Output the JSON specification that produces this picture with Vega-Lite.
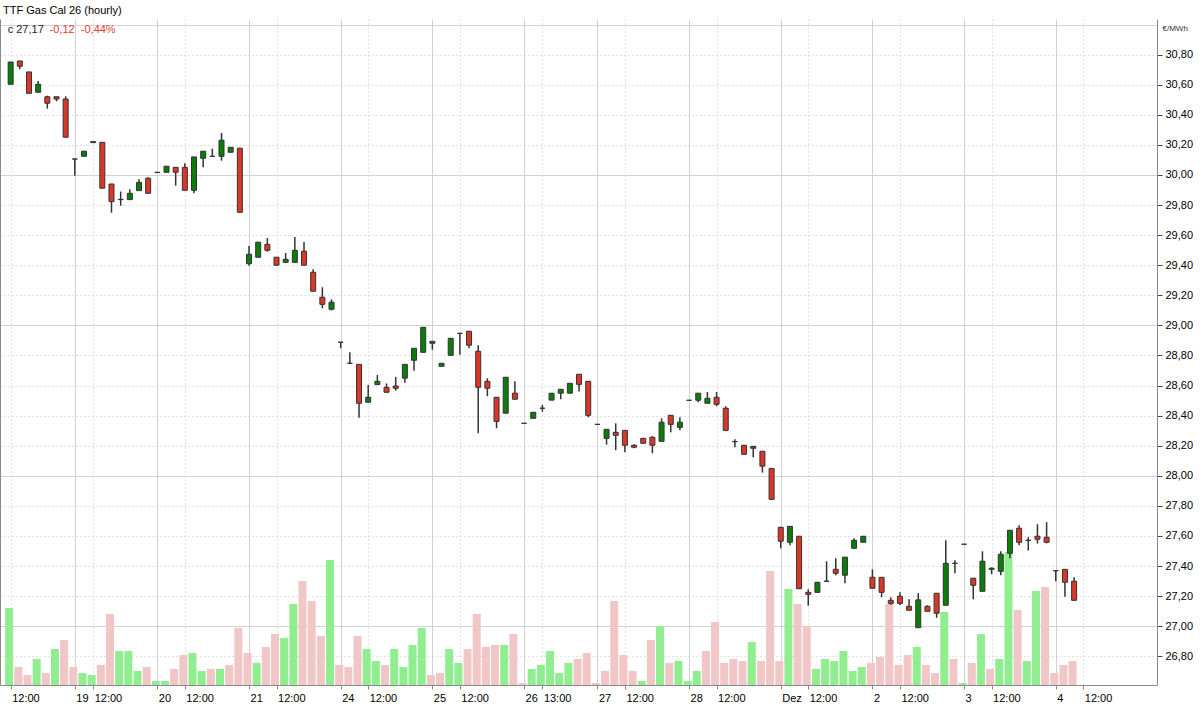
{
  "$schema": "https://vega.github.io/schema/vega-lite/v6.json",
  "width": 1157,
  "height": 666,
  "autosize": "none",
  "padding": {"left": 0, "top": 19, "right": 43, "bottom": 20},
  "background": "white",
  "config": {"view": {"stroke": null}, "font": "Liberation Sans"},
  "title": {"text": "TTF Gas Cal 26 (hourly)", "anchor": "start", "frame": "group", "orient": "top", "offset": 4, "baseline": "bottom", "font": "Liberation Sans", "fontSize": 11, "fontWeight": "normal", "color": "#000000", "dx": 3, "dy": 12},
  "datasets": {
    "ohlc": [
      {"i":0,"t":"2025-11-18 12:00","o":30.603,"h":30.751,"l":30.603,"c":30.751,"v":77},
      {"i":1,"t":"2025-11-18 13:00","o":30.758,"h":30.758,"l":30.703,"c":30.723,"v":18},
      {"i":2,"t":"2025-11-18 14:00","o":30.685,"h":30.685,"l":30.543,"c":30.543,"v":10},
      {"i":3,"t":"2025-11-18 15:00","o":30.55,"h":30.625,"l":30.55,"c":30.603,"v":26},
      {"i":4,"t":"2025-11-18 16:00","o":30.52,"h":30.527,"l":30.441,"c":30.477,"v":12},
      {"i":5,"t":"2025-11-18 17:00","o":30.52,"h":30.52,"l":30.49,"c":30.505,"v":36},
      {"i":6,"t":"2025-11-18 18:00","o":30.505,"h":30.523,"l":30.251,"c":30.251,"v":45},
      {"i":7,"t":"2025-11-19 10:00","o":30.106,"h":30.106,"l":29.995,"c":30.106,"v":18},
      {"i":8,"t":"2025-11-19 11:00","o":30.124,"h":30.158,"l":30.124,"c":30.158,"v":12},
      {"i":9,"t":"2025-11-19 12:00","o":30.215,"h":30.222,"l":30.215,"c":30.222,"v":10},
      {"i":10,"t":"2025-11-19 13:00","o":30.217,"h":30.217,"l":29.912,"c":29.912,"v":20},
      {"i":11,"t":"2025-11-19 14:00","o":29.94,"h":29.94,"l":29.749,"c":29.823,"v":71},
      {"i":12,"t":"2025-11-19 15:00","o":29.836,"h":29.89,"l":29.796,"c":29.838,"v":34},
      {"i":13,"t":"2025-11-19 16:00","o":29.836,"h":29.905,"l":29.836,"c":29.878,"v":34},
      {"i":14,"t":"2025-11-19 17:00","o":29.896,"h":29.971,"l":29.896,"c":29.951,"v":14},
      {"i":15,"t":"2025-11-19 18:00","o":29.978,"h":29.985,"l":29.878,"c":29.878,"v":18},
      {"i":16,"t":"2025-11-20 09:00","o":30.016,"h":30.018,"l":30.016,"c":30.018,"v":4},
      {"i":17,"t":"2025-11-20 10:00","o":30.018,"h":30.058,"l":30.018,"c":30.058,"v":4},
      {"i":18,"t":"2025-11-20 11:00","o":30.051,"h":30.051,"l":29.929,"c":30.018,"v":16},
      {"i":19,"t":"2025-11-20 12:00","o":30.051,"h":30.078,"l":29.898,"c":29.898,"v":30},
      {"i":20,"t":"2025-11-20 13:00","o":29.898,"h":30.12,"l":29.878,"c":30.12,"v":32},
      {"i":21,"t":"2025-11-20 14:00","o":30.111,"h":30.158,"l":30.051,"c":30.158,"v":14},
      {"i":22,"t":"2025-11-20 15:00","o":30.124,"h":30.175,"l":30.124,"c":30.124,"v":16},
      {"i":23,"t":"2025-11-20 16:00","o":30.124,"h":30.279,"l":30.095,"c":30.231,"v":16},
      {"i":24,"t":"2025-11-20 17:00","o":30.151,"h":30.184,"l":30.151,"c":30.184,"v":20},
      {"i":25,"t":"2025-11-20 18:00","o":30.178,"h":30.178,"l":29.752,"c":29.752,"v":57},
      {"i":26,"t":"2025-11-21 09:00","o":29.41,"h":29.528,"l":29.397,"c":29.473,"v":32},
      {"i":27,"t":"2025-11-21 10:00","o":29.453,"h":29.553,"l":29.453,"c":29.553,"v":22},
      {"i":28,"t":"2025-11-21 11:00","o":29.539,"h":29.581,"l":29.49,"c":29.499,"v":38},
      {"i":29,"t":"2025-11-21 12:00","o":29.453,"h":29.453,"l":29.4,"c":29.4,"v":51},
      {"i":30,"t":"2025-11-21 13:00","o":29.419,"h":29.481,"l":29.419,"c":29.439,"v":47},
      {"i":31,"t":"2025-11-21 14:00","o":29.419,"h":29.588,"l":29.419,"c":29.499,"v":81},
      {"i":32,"t":"2025-11-21 15:00","o":29.493,"h":29.555,"l":29.4,"c":29.4,"v":104},
      {"i":33,"t":"2025-11-21 16:00","o":29.353,"h":29.373,"l":29.227,"c":29.227,"v":84},
      {"i":34,"t":"2025-11-21 17:00","o":29.187,"h":29.253,"l":29.114,"c":29.14,"v":49},
      {"i":35,"t":"2025-11-21 18:00","o":29.107,"h":29.173,"l":29.1,"c":29.154,"v":125},
      {"i":36,"t":"2025-11-24 09:00","o":28.888,"h":28.888,"l":28.848,"c":28.888,"v":20},
      {"i":37,"t":"2025-11-24 10:00","o":28.748,"h":28.821,"l":28.748,"c":28.748,"v":18},
      {"i":38,"t":"2025-11-24 11:00","o":28.741,"h":28.741,"l":28.386,"c":28.482,"v":49},
      {"i":39,"t":"2025-11-24 12:00","o":28.489,"h":28.604,"l":28.489,"c":28.522,"v":36},
      {"i":40,"t":"2025-11-24 13:00","o":28.606,"h":28.67,"l":28.606,"c":28.628,"v":24},
      {"i":41,"t":"2025-11-24 14:00","o":28.588,"h":28.614,"l":28.555,"c":28.555,"v":20},
      {"i":42,"t":"2025-11-24 15:00","o":28.597,"h":28.657,"l":28.566,"c":28.582,"v":36},
      {"i":43,"t":"2025-11-24 16:00","o":28.649,"h":28.741,"l":28.619,"c":28.741,"v":18},
      {"i":44,"t":"2025-11-24 17:00","o":28.768,"h":28.848,"l":28.699,"c":28.848,"v":40},
      {"i":45,"t":"2025-11-24 18:00","o":28.821,"h":28.987,"l":28.821,"c":28.987,"v":57},
      {"i":46,"t":"2025-11-25 09:00","o":28.881,"h":28.894,"l":28.838,"c":28.894,"v":10},
      {"i":47,"t":"2025-11-25 10:00","o":28.728,"h":28.748,"l":28.728,"c":28.748,"v":12},
      {"i":48,"t":"2025-11-25 11:00","o":28.801,"h":28.914,"l":28.801,"c":28.914,"v":36},
      {"i":49,"t":"2025-11-25 12:00","o":28.947,"h":28.947,"l":28.805,"c":28.947,"v":22},
      {"i":50,"t":"2025-11-25 13:00","o":28.961,"h":28.961,"l":28.848,"c":28.868,"v":36},
      {"i":51,"t":"2025-11-25 14:00","o":28.828,"h":28.868,"l":28.283,"c":28.588,"v":71},
      {"i":52,"t":"2025-11-25 15:00","o":28.628,"h":28.648,"l":28.529,"c":28.582,"v":38},
      {"i":53,"t":"2025-11-25 16:00","o":28.522,"h":28.522,"l":28.316,"c":28.362,"v":40},
      {"i":54,"t":"2025-11-25 17:00","o":28.416,"h":28.655,"l":28.416,"c":28.655,"v":40},
      {"i":55,"t":"2025-11-25 18:00","o":28.549,"h":28.628,"l":28.509,"c":28.509,"v":51},
      {"i":56,"t":"2025-11-26 11:00","o":28.349,"h":28.349,"l":28.349,"c":28.349,"v":2},
      {"i":57,"t":"2025-11-26 12:00","o":28.382,"h":28.422,"l":28.382,"c":28.422,"v":16},
      {"i":58,"t":"2025-11-26 13:00","o":28.449,"h":28.471,"l":28.426,"c":28.449,"v":20},
      {"i":59,"t":"2025-11-26 14:00","o":28.503,"h":28.549,"l":28.503,"c":28.549,"v":34},
      {"i":60,"t":"2025-11-26 15:00","o":28.549,"h":28.575,"l":28.509,"c":28.575,"v":12},
      {"i":61,"t":"2025-11-26 16:00","o":28.549,"h":28.615,"l":28.549,"c":28.615,"v":22},
      {"i":62,"t":"2025-11-26 17:00","o":28.675,"h":28.675,"l":28.561,"c":28.608,"v":26},
      {"i":63,"t":"2025-11-26 18:00","o":28.628,"h":28.628,"l":28.389,"c":28.402,"v":32},
      {"i":64,"t":"2025-11-27 09:00","o":28.342,"h":28.342,"l":28.342,"c":28.342,"v":2},
      {"i":65,"t":"2025-11-27 10:00","o":28.249,"h":28.309,"l":28.207,"c":28.309,"v":14},
      {"i":66,"t":"2025-11-27 11:00","o":28.289,"h":28.349,"l":28.17,"c":28.269,"v":84},
      {"i":67,"t":"2025-11-27 12:00","o":28.302,"h":28.302,"l":28.156,"c":28.203,"v":30},
      {"i":68,"t":"2025-11-27 13:00","o":28.203,"h":28.209,"l":28.183,"c":28.19,"v":14},
      {"i":69,"t":"2025-11-27 14:00","o":28.249,"h":28.249,"l":28.216,"c":28.216,"v":4},
      {"i":70,"t":"2025-11-27 15:00","o":28.256,"h":28.263,"l":28.15,"c":28.203,"v":45},
      {"i":71,"t":"2025-11-27 16:00","o":28.229,"h":28.382,"l":28.229,"c":28.356,"v":59},
      {"i":72,"t":"2025-11-27 17:00","o":28.402,"h":28.402,"l":28.289,"c":28.342,"v":22},
      {"i":73,"t":"2025-11-27 18:00","o":28.322,"h":28.389,"l":28.302,"c":28.356,"v":24},
      {"i":74,"t":"2025-11-28 09:00","o":28.502,"h":28.502,"l":28.502,"c":28.502,"v":4},
      {"i":75,"t":"2025-11-28 10:00","o":28.502,"h":28.549,"l":28.489,"c":28.549,"v":14},
      {"i":76,"t":"2025-11-28 11:00","o":28.482,"h":28.557,"l":28.482,"c":28.515,"v":34},
      {"i":77,"t":"2025-11-28 12:00","o":28.522,"h":28.557,"l":28.462,"c":28.475,"v":63},
      {"i":78,"t":"2025-11-28 13:00","o":28.449,"h":28.462,"l":28.302,"c":28.302,"v":22},
      {"i":79,"t":"2025-11-28 14:00","o":28.227,"h":28.243,"l":28.19,"c":28.227,"v":26},
      {"i":80,"t":"2025-11-28 15:00","o":28.203,"h":28.203,"l":28.143,"c":28.143,"v":24},
      {"i":81,"t":"2025-11-28 16:00","o":28.183,"h":28.196,"l":28.123,"c":28.196,"v":43},
      {"i":82,"t":"2025-11-28 17:00","o":28.163,"h":28.163,"l":28.021,"c":28.064,"v":24},
      {"i":83,"t":"2025-11-28 18:00","o":28.049,"h":28.049,"l":27.843,"c":27.843,"v":114},
      {"i":84,"t":"2025-12-01 09:00","o":27.658,"h":27.658,"l":27.518,"c":27.565,"v":24},
      {"i":85,"t":"2025-12-01 10:00","o":27.558,"h":27.664,"l":27.538,"c":27.664,"v":96},
      {"i":86,"t":"2025-12-01 11:00","o":27.598,"h":27.598,"l":27.249,"c":27.249,"v":81},
      {"i":87,"t":"2025-12-01 12:00","o":27.225,"h":27.245,"l":27.136,"c":27.212,"v":59},
      {"i":88,"t":"2025-12-01 13:00","o":27.225,"h":27.292,"l":27.225,"c":27.292,"v":16},
      {"i":89,"t":"2025-12-01 14:00","o":27.299,"h":27.432,"l":27.299,"c":27.299,"v":26},
      {"i":90,"t":"2025-12-01 15:00","o":27.378,"h":27.452,"l":27.339,"c":27.352,"v":24},
      {"i":91,"t":"2025-12-01 16:00","o":27.339,"h":27.459,"l":27.285,"c":27.459,"v":34},
      {"i":92,"t":"2025-12-01 17:00","o":27.518,"h":27.584,"l":27.518,"c":27.571,"v":14},
      {"i":93,"t":"2025-12-01 18:00","o":27.558,"h":27.598,"l":27.558,"c":27.598,"v":18},
      {"i":94,"t":"2025-12-02 09:00","o":27.325,"h":27.378,"l":27.252,"c":27.252,"v":22},
      {"i":95,"t":"2025-12-02 10:00","o":27.325,"h":27.325,"l":27.192,"c":27.225,"v":28},
      {"i":96,"t":"2025-12-02 11:00","o":27.172,"h":27.192,"l":27.143,"c":27.152,"v":81},
      {"i":97,"t":"2025-12-02 12:00","o":27.199,"h":27.225,"l":27.139,"c":27.152,"v":20},
      {"i":98,"t":"2025-12-02 13:00","o":27.132,"h":27.179,"l":27.106,"c":27.106,"v":30},
      {"i":99,"t":"2025-12-02 14:00","o":26.99,"h":27.22,"l":26.99,"c":27.175,"v":38},
      {"i":100,"t":"2025-12-02 15:00","o":27.132,"h":27.139,"l":27.099,"c":27.099,"v":20},
      {"i":101,"t":"2025-12-02 16:00","o":27.219,"h":27.219,"l":27.056,"c":27.086,"v":12},
      {"i":102,"t":"2025-12-02 17:00","o":27.139,"h":27.571,"l":27.139,"c":27.418,"v":73},
      {"i":103,"t":"2025-12-02 18:00","o":27.418,"h":27.438,"l":27.352,"c":27.418,"v":26},
      {"i":104,"t":"2025-12-03 09:00","o":27.545,"h":27.545,"l":27.545,"c":27.545,"v":2},
      {"i":105,"t":"2025-12-03 10:00","o":27.319,"h":27.319,"l":27.179,"c":27.272,"v":22},
      {"i":106,"t":"2025-12-03 11:00","o":27.232,"h":27.498,"l":27.232,"c":27.432,"v":51},
      {"i":107,"t":"2025-12-03 12:00","o":27.378,"h":27.392,"l":27.345,"c":27.385,"v":16},
      {"i":108,"t":"2025-12-03 13:00","o":27.365,"h":27.498,"l":27.339,"c":27.478,"v":26},
      {"i":109,"t":"2025-12-03 14:00","o":27.485,"h":27.638,"l":27.452,"c":27.638,"v":133},
      {"i":110,"t":"2025-12-03 15:00","o":27.651,"h":27.671,"l":27.538,"c":27.558,"v":75},
      {"i":111,"t":"2025-12-03 16:00","o":27.57,"h":27.592,"l":27.503,"c":27.572,"v":24},
      {"i":112,"t":"2025-12-03 17:00","o":27.598,"h":27.678,"l":27.549,"c":27.578,"v":94},
      {"i":113,"t":"2025-12-03 18:00","o":27.591,"h":27.691,"l":27.551,"c":27.558,"v":98},
      {"i":114,"t":"2025-12-04 09:00","o":27.369,"h":27.369,"l":27.298,"c":27.369,"v":12},
      {"i":115,"t":"2025-12-04 10:00","o":27.378,"h":27.378,"l":27.196,"c":27.292,"v":20},
      {"i":116,"t":"2025-12-04 11:00","o":27.299,"h":27.325,"l":27.172,"c":27.172,"v":24}
    ]
  },
  "data": {"name": "ohlc"},
  "layer": [
    {
      "transform": [{"window": [{"op": "lag", "field": "c", "as": "pc"}], "sort": [{"field": "i", "order": "ascending"}]}],
      "mark": {"type": "bar", "size": 8, "xOffset": -1.5, "clip": true},
      "encoding": {
        "x": {
          "field": "i",
          "type": "quantitative",
          "scale": {"domain": [-0.616, 124.495], "nice": false, "zero": false},
          "axis": {
            "values": [0, 7, 9, 16, 19, 26, 29, 36, 39, 46, 49, 56, 58, 64, 67, 74, 77, 84, 87, 94, 97, 104, 107, 114, 117],
            "tickCount": 60,
            "labelExpr": "indexof([7,16,26,36,46,56,64,74,84,94,104,114], datum.value) >= 0 ? ['19','20','21','24','25','26','27','28','Dez','2','3','4'][indexof([7,16,26,36,46,56,64,74,84,94,104,114], datum.value)] : (datum.value == 58 ? '13:00' : '12:00')",
            "title": null,
            "grid": true,
            "gridColor": {"condition": {"test": "indexof([7,16,26,36,46,56,64,74,84,94,104,114], datum.value) >= 0", "value": "#d2d2d2"}, "value": "#c2c2c2"},
            "gridDash": {"condition": {"test": "indexof([7,16,26,36,46,56,64,74,84,94,104,114], datum.value) >= 0", "value": []}, "value": [1, 3]},
            "gridWidth": 1,
            "domainColor": "#8a8a8a",
            "domainWidth": 1,
            "tickColor": "#8a8a8a",
            "tickSize": 4,
            "labelFont": "Liberation Sans",
            "labelFontSize": 11,
            "labelColor": "#000000",
            "labelAlign": "left",
            "labelBaseline": "top",
            "labelPadding": 3,
            "labelOffset": 1,
            "labelOverlap": false,
            "labelFlush": false,
            "labelBound": false
          }
        },
        "y": {"field": "v", "type": "quantitative", "scale": {"domain": [0, 666], "nice": false, "zero": true},
          "axis": {"orient": "left", "labels": false, "ticks": false, "grid": false, "title": null, "domain": true, "domainColor": "#8a8a8a", "domainWidth": 1}},
        "color": {"condition": {"test": "datum.pc == null || datum.c > datum.pc", "value": "#90ee90"}, "value": "#f0c6c6"}
      }
    },
    {
      "layer": [
        {
          "mark": {"type": "rule", "color": "#333333", "strokeWidth": 1.5, "clip": true},
          "encoding": {
            "x": {"field": "i", "type": "quantitative", "scale": {"domain": [-0.616, 124.495], "nice": false, "zero": false}},
            "y": {
              "field": "l",
              "type": "quantitative",
              "scale": {"domain": [26.609, 31.037], "nice": false, "zero": false},
              "axis": {
                "orient": "right",
                "values": [26.8, 27, 27.2, 27.4, 27.6, 27.8, 28, 28.2, 28.4, 28.6, 28.8, 29, 29.2, 29.4, 29.6, 29.8, 30, 30.2, 30.4, 30.6, 30.8, 31],
                "tickCount": 60,
                "labelExpr": "datum.value > 30.9 ? '' : replace(format(datum.value, '.2f'), '.', ',')",
                "grid": true,
                "gridColor": {"condition": {"test": "abs(datum.value - round(datum.value)) < 0.01", "value": "#d2d2d2"}, "value": "#c2c2c2"},
                "gridDash": {"condition": {"test": "abs(datum.value - round(datum.value)) < 0.01", "value": []}, "value": [1, 3]},
                "gridWidth": 1,
                "tickOpacity": {"condition": {"test": "datum.value > 30.9", "value": 0}, "value": 1},
                "tickColor": "#444444",
                "tickSize": 5,
                "domainColor": "#8a8a8a",
                "labelFont": "Liberation Sans",
                "labelFontSize": 11,
                "labelColor": "#000000",
                "labelPadding": 3,
                "labelOverlap": false,
                "labelBound": false,
                "labelFlush": false,
                "title": "€/MWh",
                "titleAngle": 0,
                "titleX": 5,
                "titleY": 9,
                "titleAlign": "left",
                "titleBaseline": "middle",
                "titleFont": "Liberation Sans",
                "titleFontSize": 8,
                "titleFontWeight": "normal",
                "titleColor": "#333333"
              }
            },
            "y2": {"field": "h"}
          }
        },
        {
          "mark": {"type": "bar", "size": 5, "stroke": "#333333", "strokeWidth": 1, "clip": true},
          "encoding": {
            "x": {"field": "i", "type": "quantitative", "scale": {"domain": [-0.616, 124.495], "nice": false, "zero": false}},
            "y": {
              "field": "o",
              "type": "quantitative",
              "scale": {"domain": [26.609, 31.037], "nice": false, "zero": false},
              "axis": {
                "orient": "right",
                "values": [26.8, 27, 27.2, 27.4, 27.6, 27.8, 28, 28.2, 28.4, 28.6, 28.8, 29, 29.2, 29.4, 29.6, 29.8, 30, 30.2, 30.4, 30.6, 30.8, 31],
                "tickCount": 60,
                "labelExpr": "datum.value > 30.9 ? '' : replace(format(datum.value, '.2f'), '.', ',')",
                "grid": true,
                "gridColor": {"condition": {"test": "abs(datum.value - round(datum.value)) < 0.01", "value": "#d2d2d2"}, "value": "#c2c2c2"},
                "gridDash": {"condition": {"test": "abs(datum.value - round(datum.value)) < 0.01", "value": []}, "value": [1, 3]},
                "gridWidth": 1,
                "tickOpacity": {"condition": {"test": "datum.value > 30.9", "value": 0}, "value": 1},
                "tickColor": "#444444",
                "tickSize": 5,
                "domainColor": "#8a8a8a",
                "labelFont": "Liberation Sans",
                "labelFontSize": 11,
                "labelColor": "#000000",
                "labelPadding": 3,
                "labelOverlap": false,
                "labelBound": false,
                "labelFlush": false,
                "title": "€/MWh",
                "titleAngle": 0,
                "titleX": 5,
                "titleY": 9,
                "titleAlign": "left",
                "titleBaseline": "middle",
                "titleFont": "Liberation Sans",
                "titleFontSize": 8,
                "titleFontWeight": "normal",
                "titleColor": "#333333"
              }
            },
            "y2": {"field": "c"},
            "color": {"condition": {"test": "datum.c > datum.o", "value": "#0b7d0b"}, "value": "#dc3628"}
          }
        },
        {
          "data": {"values": [{"label": "c 27,17", "pos": -0.324}, {"label": "-0,12\u00a0\u00a0-0,44%", "pos": 4.25}]},
          "mark": {"type": "text", "align": "left", "baseline": "middle", "font": "Liberation Sans", "fontSize": 11},
          "encoding": {
            "x": {"field": "pos", "type": "quantitative", "scale": {"domain": [-0.616, 124.495], "nice": false, "zero": false}},
            "y": {"datum": 30.962, "type": "quantitative", "scale": {"domain": [26.609, 31.037], "nice": false, "zero": false}},
            "text": {"field": "label"},
            "color": {"condition": {"test": "indexof(datum.label, 'c ') == 0", "value": "#222222"}, "value": "#e53b2e"}
          }
        }
      ]
    }
  ],
  "resolve": {"scale": {"y": "independent"}}
}
